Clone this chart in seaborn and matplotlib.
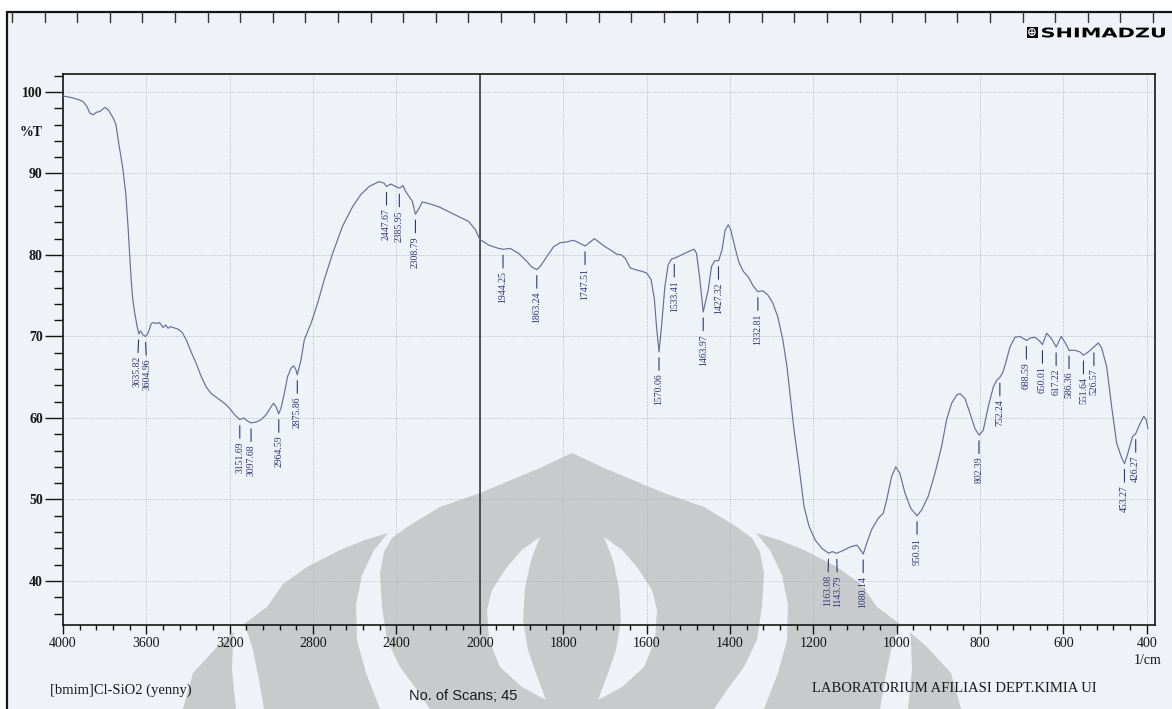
import numpy as np
import pandas as pd
import matplotlib
matplotlib.use("Agg")
import matplotlib.pyplot as plt
import seaborn as sns
from matplotlib.patches import Rectangle, Polygon, PathPatch
from matplotlib.lines import Line2D
from matplotlib.transforms import Affine2D
from matplotlib.textpath import TextPath
from matplotlib.font_manager import FontProperties
from matplotlib.ticker import FixedLocator, FixedFormatter

# ---------------------------------------------------------------- data
# FTIR spectrum of [bmim]Cl-SiO2, 4000-2000 1/cm
wn_high = [4000, 3958, 3919, 3903, 3885, 3871, 3855, 3840, 3823, 3799, 3783, 3759,
           3746, 3735, 3714, 3699, 3688, 3673, 3665, 3656, 3644, 3636, 3628, 3616,
           3605, 3592, 3576, 3565, 3549, 3536, 3520, 3507, 3496, 3485, 3472, 3448,
           3428, 3409, 3385, 3361, 3337, 3313, 3289, 3257, 3225, 3201, 3177, 3152,
           3132, 3113, 3098, 3073, 3049, 3025, 3006, 2990, 2978, 2965, 2954, 2938,
           2922, 2906, 2893, 2882, 2876, 2858, 2842, 2810, 2778, 2746, 2706, 2659,
           2611, 2571, 2531, 2483, 2459, 2448, 2427, 2404, 2386, 2368, 2356, 2340,
           2324, 2309, 2292, 2276, 2244, 2196, 2148, 2100, 2053, 2021, 2000]
t_high = [99.5, 99.3, 99.0, 98.8, 98.2, 97.4, 97.2, 97.5, 97.6, 98.1, 97.8, 96.8,
          96.0, 94.1, 90.8, 87.6, 83.5, 77.0, 74.5, 72.9, 71.2, 70.3, 70.7, 70.2,
          70.0, 70.4, 71.6, 71.7, 71.6, 71.7, 71.1, 71.4, 71.0, 71.2, 71.1, 70.9,
          70.5, 69.6, 68.1, 66.7, 65.1, 63.8, 63.0, 62.4, 61.8, 61.2, 60.4, 59.8,
          60.0, 59.6, 59.4, 59.5, 59.8, 60.4, 61.2, 61.8, 61.4, 60.5, 61.2, 63.0,
          65.1, 66.1, 66.4, 65.9, 65.3, 67.1, 69.6, 71.6, 74.1, 77.0, 80.2, 83.5,
          85.9, 87.4, 88.4, 89.0, 88.8, 88.4, 88.7, 88.4, 88.2, 88.5, 87.8, 87.2,
          86.6, 85.0, 85.7, 86.5, 86.3, 85.9, 85.3, 84.7, 84.1, 83.1, 81.9]

# 2000-400 1/cm
wn_low = [1978, 1955, 1944, 1927, 1907, 1887, 1875, 1863, 1855, 1839, 1823, 1807,
          1791, 1775, 1759, 1747, 1735, 1725, 1715, 1699, 1683, 1672, 1660, 1651,
          1639, 1627, 1612, 1600, 1589, 1581, 1576, 1570, 1564, 1556, 1548, 1540,
          1533, 1516, 1500, 1486, 1480, 1472, 1464, 1452, 1444, 1436, 1427, 1419,
          1411, 1404, 1398, 1388, 1379, 1368, 1356, 1344, 1333, 1321, 1309, 1297,
          1285, 1273, 1263, 1254, 1246, 1234, 1222, 1210, 1195, 1179, 1163, 1154,
          1144, 1130, 1110, 1095, 1085, 1080, 1072, 1060, 1044, 1032, 1024, 1012,
          1002, 992, 980, 966, 951, 940, 924, 908, 892, 880, 868, 856,
          848, 836, 824, 812, 802, 792, 780, 768, 760, 752, 745, 738,
          728, 716, 704, 694, 688, 680, 668, 656, 650, 640, 628, 617,
          605, 595, 586, 572, 560, 552, 540, 527, 516, 508, 496, 484,
          472, 460, 453, 445, 434, 426, 416, 407, 401, 397]
t_low = [81.2, 80.8, 80.7, 80.8, 80.2, 79.2, 78.5, 78.2, 78.6, 79.8, 81.0, 81.5,
         81.6, 81.8, 81.4, 81.1, 81.6, 82.0, 81.6, 81.0, 80.5, 80.1, 80.0, 79.6,
         78.4, 78.2, 78.0, 77.8, 77.0, 74.5, 71.2, 68.1, 71.2, 76.1, 78.8, 79.5,
         79.6, 80.0, 80.4, 80.7, 80.2, 77.0, 73.0, 75.7, 78.6, 79.3, 79.3, 80.6,
         83.1, 83.7, 83.1, 81.0, 79.2, 78.0, 77.3, 76.2, 75.5, 75.6, 75.1, 74.1,
         72.4, 69.6, 66.3, 62.2, 58.5, 54.0, 49.1, 46.7, 45.0, 44.0, 43.4, 43.6,
         43.4, 43.7, 44.2, 44.4, 43.7, 43.3, 44.6, 46.3, 47.7, 48.3, 49.9, 52.8,
         54.0, 53.2, 50.8, 48.9, 48.0, 48.7, 50.4, 53.2, 56.5, 59.8, 61.8, 62.8,
         63.0, 62.4, 60.6, 58.7, 57.9, 58.5, 61.4, 63.8, 64.6, 65.0, 65.6, 66.8,
         68.7, 69.9, 70.0, 69.7, 69.5, 69.8, 69.9, 69.4, 69.0, 70.4, 69.7, 68.7,
         70.0, 69.2, 68.3, 68.3, 68.1, 67.7, 68.1, 68.7, 69.2, 68.6, 66.3, 61.4,
         56.9, 55.1, 54.4, 55.7, 57.7, 58.1, 59.3, 60.2, 59.8, 58.7]

# annotated band positions (1/cm)
peaks = [3635.82, 3604.96, 3151.69, 3097.68, 2964.59, 2875.86, 2447.67, 2385.95,
         2308.79, 1944.25, 1863.24, 1747.51, 1570.06, 1533.41, 1463.97, 1427.32,
         1332.81, 1163.08, 1143.79, 1080.14, 950.91, 802.39, 752.24, 688.59,
         650.01, 617.22, 586.36, 551.64, 526.57, 453.27, 426.27]

x_major = [4000, 3600, 3200, 2800, 2400, 2000, 1800, 1600, 1400, 1200, 1000, 800, 600, 400]
y_major = [40, 50, 60, 70, 80, 90, 100]

# ---------------------------------------------------------------- style
W, H = 1172, 709
PAPER = "#eff2f7"
INK = "#151515"
TRACE = "#6c6c9c"
LABEL = "#33337c"
MARK = "#c9cacc"

sns.set_style("ticks")
plt.rcParams["font.family"] = ["Liberation Serif", "DejaVu Serif"]

fig = plt.figure(figsize=(W / 100, H / 100), dpi=100)
fig.patch.set_facecolor("white")
# pixel coordinates, origin top-left
pix = Affine2D().scale(1 / W, -1 / H).translate(0, 1) + fig.transFigure

# printed sheet frame
fig.add_artist(Rectangle((7, 12), 1250, 760, transform=pix, facecolor=PAPER,
                         edgecolor=INK, lw=1.6, zorder=-10))
for xt in np.arange(12, W, 32.6):
    fig.add_artist(Line2D([xt, xt], [12, 22], transform=pix, color="#333333",
                          lw=1.0, zorder=-9))

# background emblem
AXIS_X = 572


def mirror(pts):
    return [(2 * AXIS_X - x, y) for x, y in pts]


wing = [(183, 709), (193, 673), (217, 647), (240, 627), (267, 607), (283, 584),
        (307, 567), (340, 550), (365, 540), (388, 533), (374, 550), (362, 575),
        (356, 605), (357, 640), (366, 673), (380, 709)]
wing_gap = [(236, 616), (233, 640), (232, 670), (236, 709), (264, 709), (259, 680),
            (253, 650), (246, 628)]
body_half = [(430, 709), (417, 690), (400, 667), (387, 640), (382, 607), (380, 573),
             (384, 552), (392, 538), (407, 527), (440, 507), (480, 493), (540, 468),
             (572, 453)]
body = body_half + mirror(body_half[::-1])[1:]
crescent = [(540, 537), (522, 550), (507, 567), (492, 590), (487, 610), (489, 640),
            (500, 667), (522, 687), (546, 700), (537, 676), (528, 650), (523, 620),
            (525, 588), (531, 560)]
for shape, colour in [(wing, MARK), (mirror(wing), MARK), (wing_gap, PAPER),
                      (mirror(wing_gap), PAPER), (body, MARK), (crescent, PAPER),
                      (mirror(crescent), PAPER)]:
    fig.add_artist(Polygon(shape, closed=True, transform=pix, facecolor=colour,
                           edgecolor="none", zorder=-5))

# ---------------------------------------------------------------- spectrum
df = pd.DataFrame({"wavenumber": wn_high + wn_low,
                   "transmittance": t_high + t_low})

ax = fig.add_axes([63 / W, 1 - 625 / H, (1155 - 63) / W, (625 - 74) / H])
ax.set_facecolor("none")


def fwd(w):
    w = np.asarray(w, dtype=float)
    return np.where(w > 2000, 2000 + (w - 2000) / 2, w)


def inv(p):
    p = np.asarray(p, dtype=float)
    return np.where(p > 2000, 2000 + (p - 2000) * 2, p)


sns.lineplot(data=df, x="wavenumber", y="transmittance", sort=False,
             estimator=None, color=TRACE, lw=0.85, ax=ax, zorder=4)

ax.set_xscale("function", functions=(fwd, inv))
ax.set_xlim(4000, 380)
ax.set_ylim(34.6, 102.2)
ax.set_xlabel("")
ax.set_ylabel("")

x_minor = [v for v in list(range(3920, 2000, -80)) + list(range(1960, 380, -40))
           if v not in x_major]
y_minor = [v for v in range(36, 103, 2) if v not in y_major]
ax.xaxis.set_major_locator(FixedLocator(x_major))
ax.xaxis.set_major_formatter(FixedFormatter([str(v) for v in x_major]))
ax.xaxis.set_minor_locator(FixedLocator(x_minor))
ax.yaxis.set_major_locator(FixedLocator(y_major))
ax.yaxis.set_major_formatter(FixedFormatter([str(v) for v in y_major]))
ax.yaxis.set_minor_locator(FixedLocator(y_minor))

ax.tick_params(axis="x", which="major", direction="out", length=6.5, width=1.0,
               pad=2, labelsize=10, color=INK, labelcolor=INK)
ax.tick_params(axis="x", which="minor", direction="out", length=3.5, width=1.0,
               color=INK)
ax.tick_params(axis="y", which="major", direction="out", length=13, width=1.0,
               pad=1.5, labelsize=10, color=INK, labelcolor=INK)
ax.tick_params(axis="y", which="minor", direction="out", length=6.5, width=1.0,
               color=INK)
plt.setp(ax.get_yticklabels(), fontweight="bold")

ax.grid(True, which="major", color="#aab0b9", lw=0.6, ls=(0, (1, 1.6)), zorder=1)
ax.axvline(2000, color="#2a2a2a", lw=1.1, zorder=3)
for s in ax.spines.values():
    s.set_visible(True)
    s.set_color(INK)
    s.set_linewidth(1.2)

ax.annotate("%T", xy=(0, 95), xycoords=ax.get_yaxis_transform(),
            xytext=(-14.5, 0), textcoords="offset points", ha="right",
            va="center", fontsize=10, fontweight="bold", color=INK)

# band labels below each marked position
wn_all = np.array(wn_high + wn_low, dtype=float)
t_all = np.array(t_high + t_low, dtype=float)
peak_t = np.interp(peaks, wn_all[::-1], t_all[::-1])
px = ax.transData.transform(np.column_stack([peaks, peak_t]))[:, 0]
order = np.argsort(px)
shift = np.zeros(len(peaks))
for a, b in zip(order[:-1], order[1:]):
    gap = (px[b] + shift[b]) - (px[a] + shift[a])
    if gap < 10:
        d = (10 - gap) / 2
        shift[a] -= d
        shift[b] += d
for w, t, s in zip(peaks, peak_t, shift):
    ax.annotate(f"{w:.2f}", xy=(w, t), xytext=(s * 0.72, -15.8),
                textcoords="offset points", rotation=90, ha="center", va="top",
                fontsize=7, color=LABEL, zorder=5,
                arrowprops=dict(arrowstyle="-", color=LABEL, lw=0.8,
                                shrinkA=0, shrinkB=4.3))

# ---------------------------------------------------------------- sheet text
fig.text(1148, 661, "1/cm", transform=pix, ha="center", va="center",
         fontsize=10, color=INK)
fig.text(50, 690, "[bmim]Cl-SiO2 (yenny)", transform=pix, ha="left",
         va="center", fontsize=10.5, color="#1a1a1a")
fig.text(409, 696, "No. of Scans; 45", transform=pix, ha="left", va="center",
         fontsize=10.5, color="#1a1a1a",
         family=["Liberation Sans", "DejaVu Sans"])
fig.text(812, 689, "LABORATORIUM AFILIASI DEPT.KIMIA UI", transform=pix,
         ha="left", va="center", fontsize=10.5, color="#1a1a1a")

# maker logo
fig.add_artist(Rectangle((1026.5, 27), 11, 10.5, transform=pix,
                         facecolor="black", edgecolor="none", zorder=6))
fig.text(1032, 32.4, "\u2295", transform=pix, ha="center", va="center",
         fontsize=8.5, color="white", family=["DejaVu Sans"], fontweight="bold",
         zorder=7)
tp = TextPath((0, 0), "SHIMADZU", size=10,
              prop=FontProperties(family="DejaVu Sans", weight="bold"))
ext = tp.get_extents()
fit = (Affine2D().translate(-ext.x0, -ext.y0)
       .scale(123 / ext.width, -10 / ext.height).translate(1042, 37.5))
fig.add_artist(PathPatch(fit.transform_path(tp), transform=pix,
                         facecolor="black", edgecolor="none", zorder=6))

fig.savefig("out.png", dpi=100, facecolor=fig.get_facecolor())
